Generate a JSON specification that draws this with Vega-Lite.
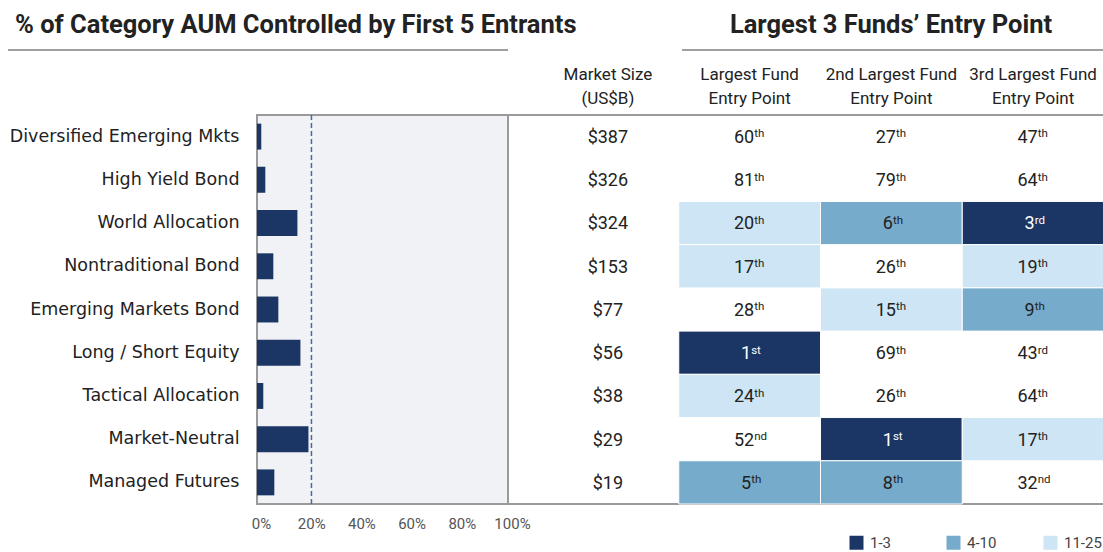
{
  "$schema": "https://vega.github.io/schema/vega-lite/v6.json",
  "padding": {"left": 7, "top": 12, "right": 0, "bottom": 0},
  "background": "white",
  "config": {"view": {"stroke": null}, "font": "Roboto"},
  "datasets": {
    "funds": [
      {"cat": "Diversified Emerging Mkts", "pct": 1.7, "size": 387},
      {"cat": "High Yield Bond", "pct": 3.3, "size": 326},
      {"cat": "World Allocation", "pct": 16.1, "size": 324},
      {"cat": "Nontraditional Bond", "pct": 6.5, "size": 153},
      {"cat": "Emerging Markets Bond", "pct": 8.5, "size": 77},
      {"cat": "Long / Short Equity", "pct": 17.3, "size": 56},
      {"cat": "Tactical Allocation", "pct": 2.5, "size": 38},
      {"cat": "Market-Neutral", "pct": 20.5, "size": 29},
      {"cat": "Managed Futures", "pct": 6.9, "size": 19}
    ],
    "entry": [
      {"cat": "Diversified Emerging Mkts", "col": "Largest Fund|Entry Point", "rank": 60, "sup": "th", "tier": null},
      {"cat": "Diversified Emerging Mkts", "col": "2nd Largest Fund|Entry Point", "rank": 27, "sup": "th", "tier": null},
      {"cat": "Diversified Emerging Mkts", "col": "3rd Largest Fund|Entry Point", "rank": 47, "sup": "th", "tier": null},
      {"cat": "High Yield Bond", "col": "Largest Fund|Entry Point", "rank": 81, "sup": "th", "tier": null},
      {"cat": "High Yield Bond", "col": "2nd Largest Fund|Entry Point", "rank": 79, "sup": "th", "tier": null},
      {"cat": "High Yield Bond", "col": "3rd Largest Fund|Entry Point", "rank": 64, "sup": "th", "tier": null},
      {"cat": "World Allocation", "col": "Largest Fund|Entry Point", "rank": 20, "sup": "th", "tier": "11-25"},
      {"cat": "World Allocation", "col": "2nd Largest Fund|Entry Point", "rank": 6, "sup": "th", "tier": "4-10"},
      {"cat": "World Allocation", "col": "3rd Largest Fund|Entry Point", "rank": 3, "sup": "rd", "tier": "1-3"},
      {"cat": "Nontraditional Bond", "col": "Largest Fund|Entry Point", "rank": 17, "sup": "th", "tier": "11-25"},
      {"cat": "Nontraditional Bond", "col": "2nd Largest Fund|Entry Point", "rank": 26, "sup": "th", "tier": null},
      {"cat": "Nontraditional Bond", "col": "3rd Largest Fund|Entry Point", "rank": 19, "sup": "th", "tier": "11-25"},
      {"cat": "Emerging Markets Bond", "col": "Largest Fund|Entry Point", "rank": 28, "sup": "th", "tier": null},
      {"cat": "Emerging Markets Bond", "col": "2nd Largest Fund|Entry Point", "rank": 15, "sup": "th", "tier": "11-25"},
      {"cat": "Emerging Markets Bond", "col": "3rd Largest Fund|Entry Point", "rank": 9, "sup": "th", "tier": "4-10"},
      {"cat": "Long / Short Equity", "col": "Largest Fund|Entry Point", "rank": 1, "sup": "st", "tier": "1-3"},
      {"cat": "Long / Short Equity", "col": "2nd Largest Fund|Entry Point", "rank": 69, "sup": "th", "tier": null},
      {"cat": "Long / Short Equity", "col": "3rd Largest Fund|Entry Point", "rank": 43, "sup": "rd", "tier": null},
      {"cat": "Tactical Allocation", "col": "Largest Fund|Entry Point", "rank": 24, "sup": "th", "tier": "11-25"},
      {"cat": "Tactical Allocation", "col": "2nd Largest Fund|Entry Point", "rank": 26, "sup": "th", "tier": null},
      {"cat": "Tactical Allocation", "col": "3rd Largest Fund|Entry Point", "rank": 64, "sup": "th", "tier": null},
      {"cat": "Market-Neutral", "col": "Largest Fund|Entry Point", "rank": 52, "sup": "nd", "tier": null},
      {"cat": "Market-Neutral", "col": "2nd Largest Fund|Entry Point", "rank": 1, "sup": "st", "tier": "1-3"},
      {"cat": "Market-Neutral", "col": "3rd Largest Fund|Entry Point", "rank": 17, "sup": "th", "tier": "11-25"},
      {"cat": "Managed Futures", "col": "Largest Fund|Entry Point", "rank": 5, "sup": "th", "tier": "4-10"},
      {"cat": "Managed Futures", "col": "2nd Largest Fund|Entry Point", "rank": 8, "sup": "th", "tier": "4-10"},
      {"cat": "Managed Futures", "col": "3rd Largest Fund|Entry Point", "rank": 32, "sup": "nd", "tier": null}
    ]
  },
  "spacing": 66,
  "bounds": "flush",
  "vconcat": [
    {
      "hconcat": [
        {
          "width": 500,
          "height": 1,
          "title": {"text": "% of Category AUM Controlled by First 5 Entrants", "anchor": "start", "dx": 8, "font": "Roboto", "fontSize": 25.5, "fontWeight": "bold", "color": "#222222", "offset": 11},
          "data": {"values": [{}]},
          "mark": {"type": "rule", "color": "#a0a0a0", "strokeWidth": 2},
          "encoding": {
            "x": {"datum": 0, "type": "quantitative", "scale": {"domain": [0, 1]}, "axis": null},
            "x2": {"datum": 1},
            "y": {"datum": 0, "type": "quantitative", "scale": {"domain": [0, 1]}, "axis": null}
          }
        },
        {
          "width": 422,
          "height": 1,
          "title": {"text": "Largest 3 Funds’ Entry Point", "anchor": "middle", "dx": -2, "font": "Roboto", "fontSize": 25.5, "fontWeight": "bold", "color": "#222222", "offset": 11},
          "data": {"values": [{}]},
          "mark": {"type": "rule", "color": "#a0a0a0", "strokeWidth": 2},
          "encoding": {
            "x": {"datum": 0, "type": "quantitative", "scale": {"domain": [0, 1]}, "axis": null},
            "x2": {"datum": 1},
            "y": {"datum": 0, "type": "quantitative", "scale": {"domain": [0, 1]}, "axis": null}
          }
        }
      ],
      "spacing": 174,
      "bounds": "flush"
    },
    {
      "hconcat": [
        {
          "width": 500,
          "height": 389,
          "layer": [
            {
              "data": {"values": [{}]},
              "mark": {"type": "rect", "fill": "#f1f2f5", "stroke": "#9a9a9a", "strokeWidth": 2},
              "encoding": {
                "x": {"datum": 0, "type": "quantitative", "scale": {"domain": [0, 100], "range": [249, 500], "nice": false}},
                "x2": {"datum": 100}
              }
            },
            {
              "data": {"name": "funds"},
              "mark": {"type": "bar", "color": "#1b3665"},
              "encoding": {
                "y": {"field": "cat", "type": "nominal",
                  "scale": {"domain": ["Diversified Emerging Mkts", "High Yield Bond", "World Allocation", "Nontraditional Bond", "Emerging Markets Bond", "Long / Short Equity", "Tactical Allocation", "Market-Neutral", "Managed Futures"], "paddingInner": 0.4, "paddingOuter": 0.2},
                  "axis": {"title": null, "orient": "left", "offset": -249, "labelFont": "DejaVu Sans", "labelFontSize": 17.5, "labelColor": "#222222", "labelLimit": 300, "ticks": false, "domain": false, "labelPadding": 18}},
                "x": {"field": "pct", "type": "quantitative", "scale": {"domain": [0, 100], "range": [249, 500], "nice": false},
                  "axis": {"title": null, "values": [0, 20, 40, 60, 80, 100], "labelExpr": "datum.value + '%'", "grid": false, "ticks": false, "domain": false, "labelFontSize": 15, "labelColor": "#555555", "labelPadding": 12, "labelOffset": 4, "labelFlush": false}}
              }
            },
            {
              "data": {"values": [{}]},
              "mark": {"type": "rule", "color": "#4a6a9a", "strokeDash": [5, 3], "strokeWidth": 1.5},
              "encoding": {"x": {"datum": 21.7, "type": "quantitative"}}
            }
          ]
        },
        {
          "width": 596,
          "height": 389,
          "view": {"fill": "white", "stroke": "#9a9a9a", "strokeWidth": 2},
          "encoding": {
            "y": {"field": "cat", "type": "nominal",
              "scale": {"domain": ["Diversified Emerging Mkts", "High Yield Bond", "World Allocation", "Nontraditional Bond", "Emerging Markets Bond", "Long / Short Equity", "Tactical Allocation", "Market-Neutral", "Managed Futures"], "paddingInner": 0, "paddingOuter": 0},
              "axis": null},
            "x": {"field": "col", "type": "nominal",
              "scale": {"domain": ["Market Size|(US$B)", "Largest Fund|Entry Point", "2nd Largest Fund|Entry Point", "3rd Largest Fund|Entry Point"], "paddingInner": 0, "paddingOuter": 0.1023, "align": 1},
              "axis": {"orient": "top", "title": null, "labelExpr": "split(datum.label, '|')", "labelAngle": 0, "labelFontSize": 17, "labelColor": "#222222", "labelLineHeight": 24, "ticks": false, "domain": false, "labelPadding": 32}}
          },
          "layer": [
            {
              "data": {"name": "entry"},
              "transform": [{"filter": "datum.tier != null"}],
              "mark": {"type": "rect", "stroke": "white", "strokeWidth": 1},
              "encoding": {
                "color": {"field": "tier", "type": "nominal",
                  "scale": {"domain": ["1-3", "4-10", "11-25"], "range": ["#1b3665", "#77abcb", "#cde5f4"]},
                  "legend": {"orient": "none", "legendX": 841, "legendY": 486, "direction": "horizontal", "title": null, "symbolType": "square", "symbolSize": 196, "symbolStrokeWidth": 0, "symbolOpacity": 1, "labelFont": "Roboto", "labelFontSize": 15, "labelColor": "#444444", "labelOffset": 6, "columnPadding": 38, "gridAlign": "all", "padding": 0}}
              }
            },
            {
              "data": {"name": "funds"},
              "mark": {"type": "text", "fontSize": 18, "color": "#222222", "baseline": "alphabetic", "dy": 6.4},
              "encoding": {
                "x": {"datum": "Market Size|(US$B)"},
                "text": {"field": "size", "type": "quantitative", "format": "$.0f"}
              }
            },
            {
              "data": {"name": "entry"},
              "transform": [{"filter": "datum.rank >= 10"}],
              "mark": {"type": "text", "fontSize": 18, "align": "right", "baseline": "alphabetic", "dx": 4.5, "dy": 6.4},
              "encoding": {
                "text": {"field": "rank", "type": "quantitative"},
                "color": {"condition": {"test": "datum.tier === '1-3'", "value": "white"}, "value": "#222222"}
              }
            },
            {
              "data": {"name": "entry"},
              "transform": [{"filter": "datum.rank >= 10"}],
              "mark": {"type": "text", "fontSize": 11.5, "align": "left", "baseline": "alphabetic", "dx": 4.5, "dy": 0.8},
              "encoding": {
                "text": {"field": "sup", "type": "nominal"},
                "color": {"condition": {"test": "datum.tier === '1-3'", "value": "white"}, "value": "#222222"}
              }
            },
            {
              "data": {"name": "entry"},
              "transform": [{"filter": "datum.rank < 10"}],
              "mark": {"type": "text", "fontSize": 18, "align": "right", "baseline": "alphabetic", "dx": 1.5, "dy": 6.4},
              "encoding": {
                "text": {"field": "rank", "type": "quantitative"},
                "color": {"condition": {"test": "datum.tier === '1-3'", "value": "white"}, "value": "#222222"}
              }
            },
            {
              "data": {"name": "entry"},
              "transform": [{"filter": "datum.rank < 10"}],
              "mark": {"type": "text", "fontSize": 11.5, "align": "left", "baseline": "alphabetic", "dx": 1.5, "dy": 0.8},
              "encoding": {
                "text": {"field": "sup", "type": "nominal"},
                "color": {"condition": {"test": "datum.tier === '1-3'", "value": "white"}, "value": "#222222"}
              }
            }
          ]
        }
      ],
      "spacing": 0,
      "bounds": "flush",
      "resolve": {"scale": {"x": "independent", "y": "independent"}}
    }
  ]
}
